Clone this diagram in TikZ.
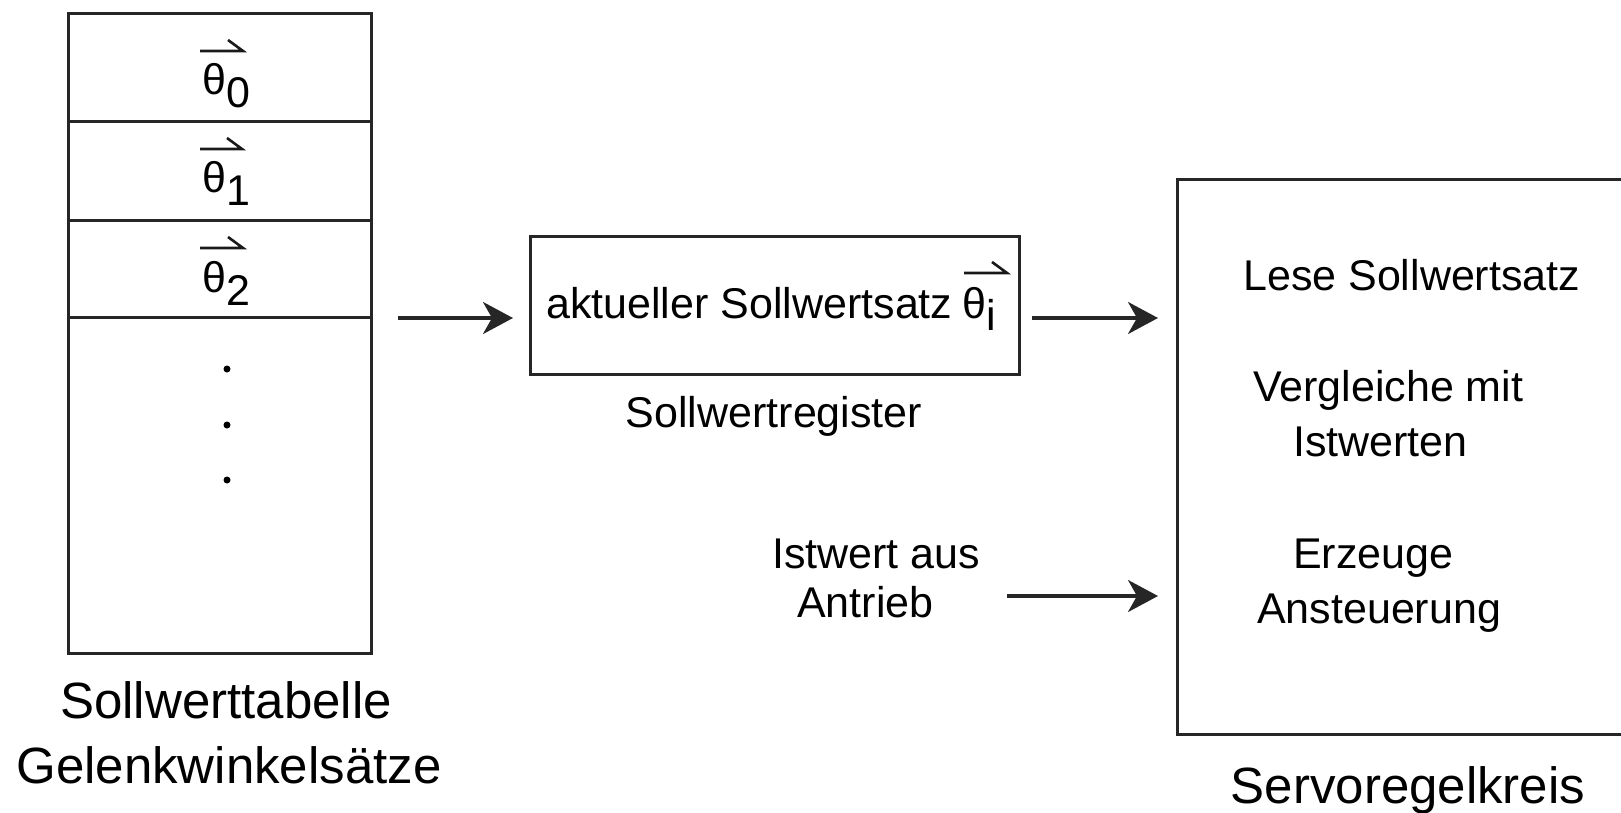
\documentclass[tikz,border=0pt]{standalone}
\usepackage{fontspec}
\setmainfont{Liberation Sans}
\usetikzlibrary{arrows.meta,calc}
\begin{document}
\begin{tikzpicture}[x=1pt,y=-1pt,
  box/.style={draw=black!85,line width=3pt,inner sep=0pt,anchor=north west},
  lbl/.style={inner sep=0pt,anchor=base west,font=\fontsize{43}{50}\selectfont},
  captxt/.style={inner sep=0pt,anchor=base,font=\fontsize{51}{60}\selectfont},
  arr/.style={line width=3.2pt,draw=black!85,-{Stealth[length=30pt,width=32pt,inset=9pt]}},
  vecar/.style={line width=2.6pt,draw=black!90}
]
\useasboundingbox (0,0) rectangle (1621,813);

% Sollwerttabelle
\node[box,minimum width=303pt,minimum height=640pt] (table) at (67,12) {};
\draw[box] ($(table.north west)+(0,110)$) -- ($(table.north east)+(0,110)$);
\draw[box] ($(table.north west)+(0,208)$) -- ($(table.north east)+(0,208)$);
\draw[box] ($(table.north west)+(0,305)$) -- ($(table.north east)+(0,305)$);

\node[lbl] (th0) at (202,95) {θ\raisebox{-13pt}{0}};
\node[lbl] (th1) at (202,193) {θ\raisebox{-13pt}{1}};
\node[lbl] (th2) at (202,292) {θ\raisebox{-13pt}{2}};
\draw[vecar] ($(th0.base west)+(-2,-44)$) -- ++(43,0) -- ++(-15,-11);
\draw[vecar] ($(th1.base west)+(-2,-44)$) -- ++(42,0) -- ++(-15,-11);
\draw[vecar] ($(th2.base west)+(-2,-44)$) -- ++(43,0) -- ++(-15,-11);

\fill (227,369) circle (3.5pt) (227,425) circle (3.5pt) (227,480) circle (3.5pt);

\node[captxt] (cap1) at (226,718) {Sollwerttabelle};
\node[captxt] (cap2) at (229,783) {Gelenkwinkelsätze};

% Sollwertregister
\node[box,minimum width=489pt,minimum height=138pt] (reg) at (529,235) {};
\node[lbl] (regtxt) at (546,318) {aktueller Sollwertsatz};
\node[lbl] (thi) at (962,318) {θ\raisebox{-12pt}{i}};
\draw[vecar] ($(thi.base west)+(2,-45)$) -- ++(43,0) -- ++(-15,-11);
\node[lbl,anchor=base] (regcap) at (774,427) {Sollwertregister};

% Servoregelkreis
\begin{scope}
\clip (0,0) rectangle (1621,813);
\node[box,minimum width=480pt,minimum height=555pt] (servo) at (1176,178) {};
\end{scope}
\node[lbl] (s1) at (1243,290) {Lese Sollwertsatz};
\node[lbl] (s2) at (1253,401) {Vergleiche mit};
\node[lbl] (s3) at (1293,456) {Istwerten};
\node[lbl] (s4) at (1293,568) {Erzeuge};
\node[lbl] (s5) at (1257,623) {Ansteuerung};
\node[captxt] (servocap) at (1408,803) {Servoregelkreis};

\node[lbl] (ist1) at (772,568) {Istwert aus};
\node[lbl] (ist2) at (797,617) {Antrieb};

% connectors
\coordinate (a1) at (398,318);
\coordinate (a2) at (1032,318);
\coordinate (a3) at (1007,596);
\draw[arr] (a1) -- ($(a1 -| reg.west)+(-16,0)$);
\draw[arr] (a2) -- ($(a2 -| servo.west)+(-18,0)$);
\draw[arr] (a3) -- ($(a3 -| servo.west)+(-18,0)$);
\end{tikzpicture}
\end{document}
